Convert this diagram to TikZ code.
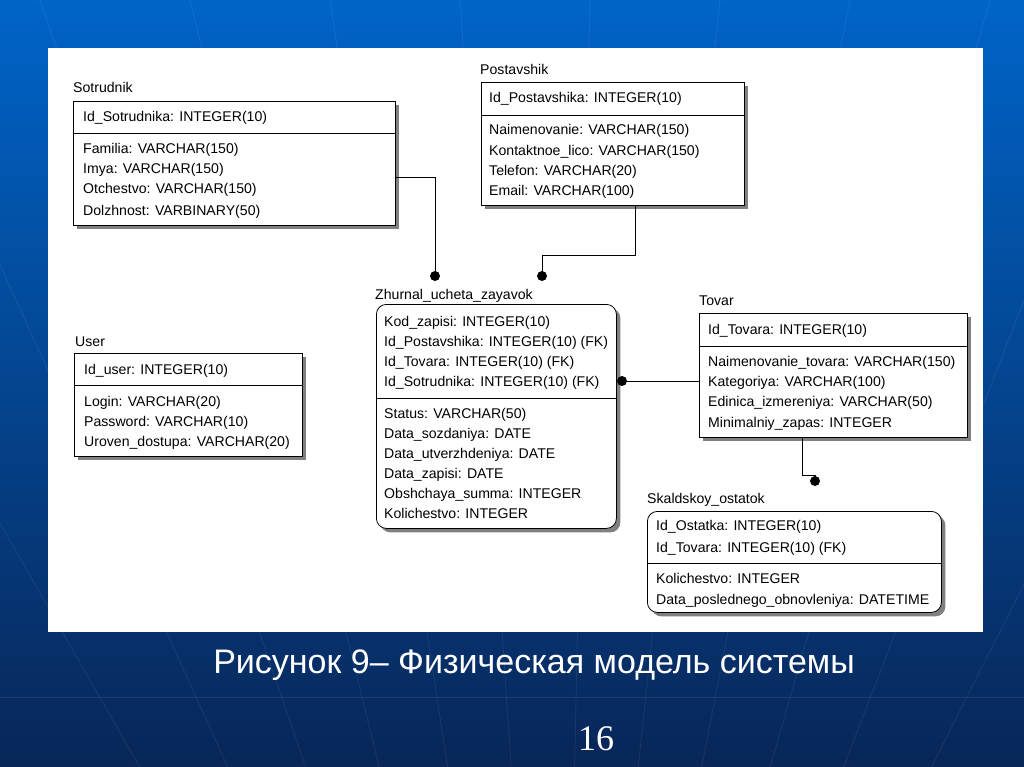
\documentclass[tikz,border=0pt]{standalone}
\usepackage{fontspec}
\setmainfont{Liberation Sans}
\newfontfamily\serifnum{Liberation Serif}
\usetikzlibrary{shadows}
\definecolor{bgtop}{RGB}{0,100,200}
\definecolor{bgmid}{RGB}{12,68,148}
\definecolor{bgbot}{RGB}{8,38,88}
\begin{document}
\begin{tikzpicture}[x=1pt,y=-1pt,
  ent/.style={draw, line width=0.8pt, fill=white, anchor=north west, inner sep=0pt,
    drop shadow={shadow xshift=4pt, shadow yshift=-4pt, fill=black!50, opacity=1}},
  rent/.style={ent, rounded corners=10pt},
  txt/.style={anchor=base west, inner sep=0pt, font=\fontsize{14.1}{17}\selectfont},
  sep/.style={line width=0.8pt},
  conn/.style={line width=0.8pt},
  dotc/.style={circle, fill=black, inner sep=0pt, minimum size=10pt}]
\useasboundingbox (0,0) rectangle (1024,767);
\shade[top color=bgtop, middle color=bgmid, bottom color=bgbot] (0,0) rectangle (1024,767);
% faint background lines
\coordinate (vp) at (560,1500);
\foreach \xx in {-300,-120,40,190,330,460,590,720,850,990,1140,1320}
  \draw[white, opacity=0.07, line width=0.8pt] (vp) -- (\xx,0);
\draw[white, opacity=0.08, line width=0.8pt] (0,697) -- (1024,697);
% white panel
\fill[white] (48,48) rectangle (983,632);

% Sotrudnik
\node[txt] (sotT) at (73,93) {Sotrudnik};
\node[ent, minimum width=322pt, minimum height=124pt] (sot) at (73,101) {};
\draw[sep] (sot.west |- 0,133) -- (sot.east |- 0,133);
\node[txt] (sot1) at (83,122) {Id\_Sotrudnika: INTEGER(10)};
\node[txt] (sot2) at (83,154) {Familia: VARCHAR(150)};
\node[txt] (sot3) at (83,174) {Imya: VARCHAR(150)};
\node[txt] (sot4) at (83,194) {Otchestvo: VARCHAR(150)};
\node[txt] (sot5) at (83,215) {Dolzhnost: VARBINARY(50)};

% Postavshik
\node[txt] (posT) at (480,75) {Postavshik};
\node[ent, minimum width=263pt, minimum height=123pt] (pos) at (481,82) {};
\draw[sep] (pos.west |- 0,115) -- (pos.east |- 0,115);
\node[txt] (pos1) at (489,103) {Id\_Postavshika: INTEGER(10)};
\node[txt] (pos2) at (489,135) {Naimenovanie: VARCHAR(150)};
\node[txt] (pos3) at (489,156) {Kontaktnoe\_lico: VARCHAR(150)};
\node[txt] (pos4) at (489,176) {Telefon: VARCHAR(20)};
\node[txt] (pos5) at (489,196) {Email: VARCHAR(100)};

% Zhurnal
\node[txt] (zhT) at (375,299) {Zhurnal\_ucheta\_zayavok};
\node[rent, minimum width=240pt, minimum height=224pt] (zh) at (376,304) {};
\draw[sep] (zh.west |- 0,398) -- (zh.east |- 0,398);
\node[txt] (zh1) at (384,326) {Kod\_zapisi: INTEGER(10)};
\node[txt] (zh2) at (384,346) {Id\_Postavshika: INTEGER(10) (FK)};
\node[txt] (zh3) at (384,366) {Id\_Tovara: INTEGER(10) (FK)};
\node[txt] (zh4) at (384,386) {Id\_Sotrudnika: INTEGER(10) (FK)};
\node[txt] (zh5) at (384,418) {Status: VARCHAR(50)};
\node[txt] (zh6) at (384,438) {Data\_sozdaniya: DATE};
\node[txt] (zh7) at (384,458) {Data\_utverzhdeniya: DATE};
\node[txt] (zh8) at (384,478) {Data\_zapisi: DATE};
\node[txt] (zh9) at (384,498) {Obshchaya\_summa: INTEGER};
\node[txt] (zh10) at (384,518) {Kolichestvo: INTEGER};

% Tovar
\node[txt] (tovT) at (699,305) {Tovar};
\node[ent, minimum width=268pt, minimum height=124pt] (tov) at (699,313) {};
\draw[sep] (tov.west |- 0,346) -- (tov.east |- 0,346);
\node[txt] (tov1) at (708,334) {Id\_Tovara: INTEGER(10)};
\node[txt] (tov2) at (708,366) {Naimenovanie\_tovara: VARCHAR(150)};
\node[txt] (tov3) at (708,386) {Kategoriya: VARCHAR(100)};
\node[txt] (tov4) at (708,406) {Edinica\_izmereniya: VARCHAR(50)};
\node[txt] (tov5) at (708,427) {Minimalniy\_zapas: INTEGER};

% User
\node[txt] (usrT) at (75,346) {User};
\node[ent, minimum width=228pt, minimum height=103pt] (usr) at (74,353) {};
\draw[sep] (usr.west |- 0,385) -- (usr.east |- 0,385);
\node[txt] (usr1) at (84,374) {Id\_user: INTEGER(10)};
\node[txt] (usr2) at (84,406) {Login: VARCHAR(20)};
\node[txt] (usr3) at (84,426) {Password: VARCHAR(10)};
\node[txt] (usr4) at (84,446) {Uroven\_dostupa: VARCHAR(20)};

% Skaldskoy_ostatok
\node[txt] (skT) at (647,503) {Skaldskoy\_ostatok};
\node[rent, minimum width=294pt, minimum height=101pt] (sk) at (647,511) {};
\draw[sep] (sk.west |- 0,563) -- (sk.east |- 0,563);
\node[txt] (sk1) at (656,530) {Id\_Ostatka: INTEGER(10)};
\node[txt] (sk2) at (656,552) {Id\_Tovara: INTEGER(10) (FK)};
\node[txt] (sk3) at (656,583) {Kolichestvo: INTEGER};
\node[txt] (sk4) at (656,604) {Data\_poslednego\_obnovleniya: DATETIME};

% connectors
\node[dotc] (d1) at (435,276) {};
\node[dotc] (d2) at (542,276) {};
\node[dotc] (d3) at (622,381) {};
\node[dotc] (d4) at (815,481) {};
\coordinate (j1) at (0,177);
\coordinate (j2) at (635,255);
\coordinate (j3) at (0,381);
\coordinate (j4) at (802,475);
\coordinate (j5) at (815,475);
\draw[conn] (sot.east |- j1) -| (d1.center);
\draw[conn] (pos.south -| j2) -- (j2) -| (d2.center);
\draw[conn] (d3.center) -- (tov.west |- j3);
\draw[conn] (tov.south -| j4) -- (j4) -- (j5) -- (d4.center);

% caption
\node[anchor=base, inner sep=0pt, text=white, font=\fontsize{34}{38}\selectfont] (cap) at (534,673) {Рисунок 9– Физическая модель системы};
\node[anchor=base, inner sep=0pt, text=white, font=\serifnum\fontsize{36}{40}\selectfont] (num) at (596,750) {16};
\end{tikzpicture}
\end{document}
